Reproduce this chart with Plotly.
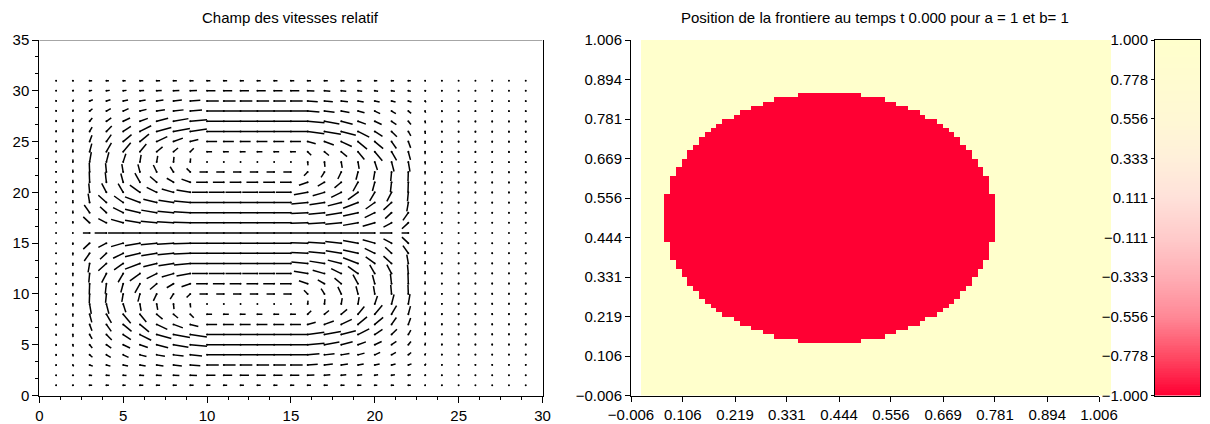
import plotly.graph_objects as go

# ---------------- Left chart data: velocity field ----------------
# Upper-left quarter of the grid: rows y = 31 .. 16, columns x = 1 .. 9  (u, v in grid units)
U_UL = [
    [0.03, 0.05, 0.15, 0.15, 0.15, 0.20, 0.20, 0.20, 0.20],
    [0.03, 0.06, 0.15, 0.20, 0.20, 0.25, 0.30, 0.35, 0.40],
    [0.02, 0.05, 0.19, 0.24, 0.29, 0.34, 0.40, 0.50, 0.60],
    [0.02, 0.03, 0.17, 0.26, 0.32, 0.39, 0.49, 0.60, 0.70],
    [0.02, 0.02, 0.16, 0.29, 0.41, 0.47, 0.68, 0.89, 1.00],
    [0.02, 0.01, 0.15, 0.32, 0.46, 0.67, 0.87, 0.98, 0.99],
    [0.01, 0.00, 0.14, 0.29, 0.50, 0.54, 0.63, 0.56, 0.48],
    [0.01, 0.00, 0.13, 0.30, 0.45, 0.38, 0.35, 0.27, 0.21],
    [0.00, 0.01, 0.10, 0.15, 0.16, 0.07, 0.06, 0.03, 0.02],
    [0.00, 0.00, -0.02, -0.05, -0.08, -0.12, -0.20, -0.20, -0.22],
    [0.00, 0.00, -0.02, -0.07, -0.14, -0.30, -0.40, -0.40, -0.52],
    [0.00, 0.00, -0.05, -0.28, -0.30, -0.60, -0.60, -0.70, -0.82],
    [0.00, 0.00, -0.09, -0.48, -0.54, -0.89, -0.80, -0.89, -0.97],
    [0.00, 0.00, -0.32, -0.38, -0.60, -0.89, -0.92, -0.95, -0.98],
    [0.00, 0.00, -0.38, -0.48, -0.72, -0.89, -0.95, -0.98, -1.00],
    [0.00, -0.03, -0.40, -0.70, -0.90, -0.95, -1.00, -1.00, -1.00],
]
V_UL = [
    [0.00, 0.00, 0.00, 0.00, 0.00, 0.00, 0.00, 0.00, 0.00],
    [0.05, 0.05, 0.04, 0.04, 0.04, 0.04, 0.04, 0.04, 0.03],
    [0.08, 0.14, 0.11, 0.11, 0.10, 0.10, 0.09, 0.09, 0.07],
    [0.10, 0.16, 0.23, 0.25, 0.25, 0.17, 0.14, 0.12, 0.10],
    [0.12, 0.20, 0.32, 0.33, 0.32, 0.28, 0.30, 0.26, 0.14],
    [0.12, 0.25, 0.43, 0.53, 0.50, 0.56, 0.38, 0.29, 0.23],
    [0.12, 0.25, 0.62, 0.68, 0.69, 0.74, 0.49, 0.34, 0.21],
    [0.12, 0.25, 0.80, 0.86, 0.89, 0.76, 0.48, 0.37, 0.35],
    [0.10, 0.25, 0.97, 0.95, 0.80, 0.68, 0.58, 0.49, 0.34],
    [0.10, 0.25, 0.90, 0.88, 0.78, 0.76, 0.69, 0.52, 0.36],
    [0.10, 0.25, 0.98, 0.98, 0.86, 0.89, 0.56, 0.39, 0.30],
    [0.10, 0.25, 0.88, 0.89, 0.85, 0.72, 0.49, 0.33, 0.23],
    [0.08, 0.25, 0.87, 0.72, 0.64, 0.56, 0.33, 0.23, 0.15],
    [0.06, 0.22, 0.76, 0.59, 0.49, 0.33, 0.25, 0.15, 0.08],
    [0.04, 0.18, 0.59, 0.42, 0.34, 0.25, 0.15, 0.10, 0.05],
    [0.00, 0.00, 0.00, 0.00, 0.00, 0.00, 0.00, 0.00, 0.00],
]
# horizontal speed in the straight part (x = 10 .. 15), rows y = 31 .. 16
U_PLATEAU = [0.20, 0.50, 0.70, 1.00, 1.00, 1.00, 0.60, 0.30, 0.02,
             -0.45, -0.65, -0.90, -1.00, -1.00, -1.00, -1.00]
# tiny vertical ticks in the far right columns (x = 25 .. 29), rows y = 31 .. 16
V_TAIL = [0.00, 0.05, 0.08, 0.10, 0.12, 0.12, 0.12, 0.12, 0.12, 0.12, 0.12, 0.12,
          0.10, 0.08, 0.05, 0.00]

NX, NY = 29, 31

# ---------------- Right chart data: level-set on an 81 x 81 grid ----------------
GRID_N = 81
GRID_STEP = 0.0125
RED_FIRST_ROW = 12
# for each grid row (from row 12 upward): first and last column inside the interface (value -1)
RED_ROW_EXTENTS = [
    (27, 37), (23, 41), (21, 43), (19, 45), (17, 47), (16, 48), (14, 50), (13, 51),
    (12, 52), (11, 53), (10, 54), (10, 54), (9, 55), (8, 56), (8, 56), (7, 57),
    (7, 57), (6, 58), (6, 58), (5, 59), (5, 59), (5, 59), (5, 59), (4, 60),
    (4, 60), (4, 60), (4, 60), (4, 60), (4, 60), (4, 60), (4, 60), (4, 60),
    (4, 60), (4, 60), (5, 59), (5, 59), (5, 59), (5, 59), (6, 58), (6, 58),
    (7, 57), (7, 57), (8, 56), (8, 56), (9, 55), (10, 54), (10, 54), (11, 53),
    (12, 52), (13, 51), (14, 50), (16, 48), (17, 47), (19, 45), (21, 43), (23, 41),
    (27, 37),
]
AX_TICKS = [-0.006, 0.106, 0.219, 0.331, 0.444, 0.556, 0.669, 0.781, 0.894, 1.006]
CB_TICKS = [-1.000, -0.778, -0.556, -0.333, -0.111, 0.111, 0.333, 0.556, 0.778, 1.000]
CSCALE = [[0.0, "#FF0033"], [0.11, "#FF4A64"], [0.22, "#FF8896"], [0.33, "#FFADB4"],
          [0.44, "#FFCACA"], [0.56, "#FFE2DA"], [0.67, "#FFF0DA"], [0.78, "#FFF8D4"],
          [1.0, "#FFFFCC"]]

FONT = "Liberation Sans"
FS = 15

# build quiver segments
seg_x, seg_y, px, py = [], [], [], []
for j in range(1, NY + 1):
    if j >= 16:
        r, sy = 31 - j, 1
    else:
        r, sy = j - 1, -1
    for i in range(1, NX + 1):
        if i <= 9:
            u, v = U_UL[r][i - 1], V_UL[r][i - 1]
        elif i <= 15:
            u, v = U_PLATEAU[r], 0.0
        elif i <= 24:
            u, v = U_UL[r][25 - i - 1], -V_UL[r][25 - i - 1]
        else:
            u, v = 0.0, -V_TAIL[r]
        v *= sy
        seg_x += [i, i + u, None]
        seg_y += [j, j + v, None]
        px.append(i)
        py.append(j)

fig = go.Figure()
fig.add_trace(go.Scatter(x=seg_x, y=seg_y, mode="lines",
                         line=dict(color="black", width=1.5),
                         xaxis="x", yaxis="y", hoverinfo="skip", showlegend=False))
fig.add_trace(go.Scatter(x=px, y=py, mode="markers",
                         marker=dict(color="black", size=2),
                         xaxis="x", yaxis="y", hoverinfo="skip", showlegend=False))

# empty trace so that the ticked axes of the right panel exist
fig.add_trace(go.Scatter(x=[None], y=[None], xaxis="x2", yaxis="y2", showlegend=False))

# level set heatmap
gx = [k * GRID_STEP for k in range(GRID_N)]
gy = [k * GRID_STEP for k in range(GRID_N)]
z = [[1] * GRID_N for _ in range(GRID_N)]
for n, (a, b) in enumerate(RED_ROW_EXTENTS):
    for c in range(a, b + 1):
        z[RED_FIRST_ROW + n][c] = -1

fig.add_trace(go.Heatmap(x=gx, y=gy, z=z, zmin=-1, zmax=1, colorscale=CSCALE,
                         showscale=False, xaxis="x3", yaxis="y3", hoverinfo="skip"))

# colour bar drawn as its own axis (drawn last so its labels stay on top)
levels = [-1 + 2 * k / 200 for k in range(201)]
fig.add_trace(go.Heatmap(x=[0], y=levels, z=[[lv] for lv in levels], zmin=-1, zmax=1,
                         colorscale=CSCALE, showscale=False, xaxis="x4", yaxis="y4",
                         hoverinfo="skip"))

W, H = 1210, 424
ytop, ybot = 40, 395.5
ydom = [(H - ybot) / H, (H - ytop) / H]
tickfont = dict(family=FONT, size=FS, color="black")


def fmt(t):
    return f"{t:.3f}".replace("-", "\u2212")


axis_common = dict(showgrid=False, zeroline=False, ticks="outside", tickcolor="black",
                   linecolor="black", showline=True, tickfont=tickfont, automargin=False)
hidden = dict(visible=False, showgrid=False, zeroline=False, automargin=False)

fig.update_layout(
    width=W, height=H, margin=dict(l=0, r=0, t=0, b=0, autoexpand=False),
    paper_bgcolor="white", plot_bgcolor="white",
    xaxis=dict(domain=[39.3 / W, 542.5 / W], range=[0, 30], tickvals=[0, 5, 10, 15, 20, 25, 30],
               ticklen=6, minor=dict(dtick=1.25, ticklen=3, ticks="outside", tickcolor="black"),
               anchor="y", **axis_common),
    yaxis=dict(domain=ydom, range=[0, 35], tickvals=[0, 5, 10, 15, 20, 25, 30, 35],
               ticklen=6, minor=dict(dtick=5 / 3, ticklen=3, ticks="outside", tickcolor="black"),
               anchor="x", mirror=True, **axis_common),
    xaxis2=dict(domain=[631 / W, 1099 / W], range=[-0.006, 1.006], tickvals=AX_TICKS,
                ticktext=[fmt(t) for t in AX_TICKS], ticklen=5, anchor="y2", **axis_common),
    yaxis2=dict(domain=ydom, range=[-0.006, 1.006], tickvals=AX_TICKS,
                ticktext=[fmt(t) for t in AX_TICKS], ticklen=5, anchor="x2", **axis_common),
    xaxis3=dict(domain=[641 / W, 1111 / W], range=[-0.00625, 1.00625], anchor="y3", **hidden),
    yaxis3=dict(domain=ydom, range=[-0.00625, 1.00625], anchor="x3", **hidden),
    xaxis4=dict(domain=[1155 / W, 1200 / W], range=[-0.5, 0.5], showticklabels=False,
                ticks="", showline=True, mirror=True, linecolor="black", showgrid=False,
                zeroline=False, anchor="y4", automargin=False),
    yaxis4=dict(domain=ydom, range=[-1, 1], tickvals=CB_TICKS,
                ticktext=[fmt(t) for t in CB_TICKS], ticklen=3,
                anchor="x4", mirror=True, **axis_common),
    shapes=[dict(type="line", xref="x", yref="y", x0=0, x1=30, y0=35, y1=35,
                 line=dict(color="#888888", width=1.5))],
    annotations=[
        dict(text="Champ des vitesses relatif", x=290 / W, y=1 - 17 / H, xref="paper", yref="paper",
             showarrow=False, xanchor="center", yanchor="middle", font=dict(family=FONT, size=FS, color="black")),
        dict(text="Position de la frontiere au temps t 0.000 pour a = 1 et b= 1", x=875 / W, y=1 - 17 / H,
             xref="paper", yref="paper", showarrow=False, xanchor="center", yanchor="middle",
             font=dict(family=FONT, size=FS, color="black")),
    ],
)

fig.write_html("out.html")
